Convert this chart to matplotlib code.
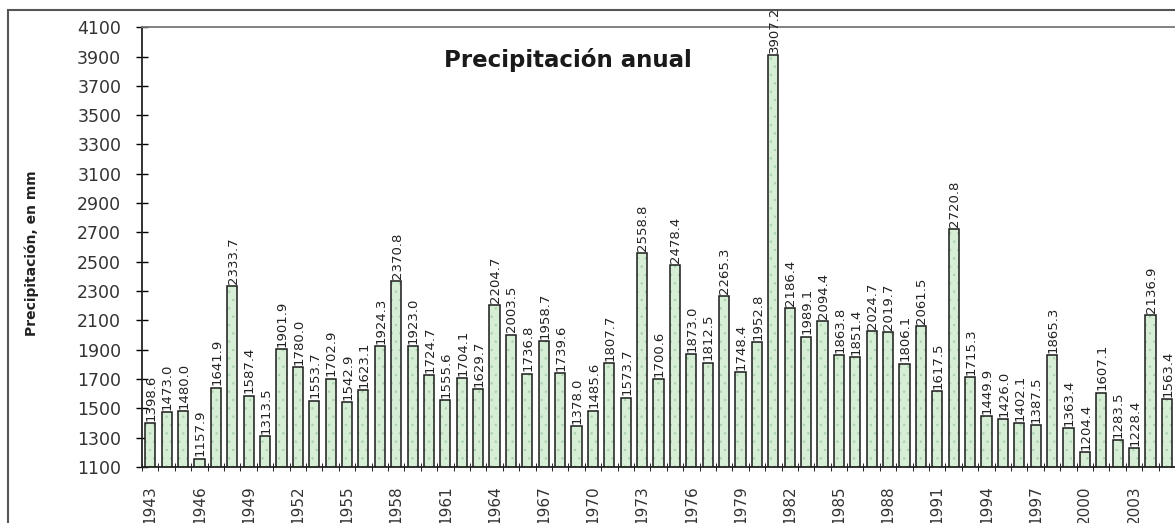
import numpy as np
import matplotlib
matplotlib.use('Agg')
import matplotlib.pyplot as plt
from matplotlib.patches import Rectangle

## Annual precipitation (mm)
years = np.arange(1943, 2007)
precip = [1398.6, 1473.0, 1480.0, 1157.9, 1641.9, 2333.7, 1587.4, 1313.5,
          1901.9, 1780.0, 1553.7, 1702.9, 1542.9, 1623.1, 1924.3, 2370.8,
          1923.0, 1724.7, 1555.6, 1704.1, 1629.7, 2204.7, 2003.5, 1736.8,
          1958.7, 1739.6, 1378.0, 1485.6, 1807.7, 1573.7, 2558.8, 1700.6,
          2478.4, 1873.0, 1812.5, 2265.3, 1748.4, 1952.8, 3907.2, 2186.4,
          1989.1, 2094.4, 1863.8, 1851.4, 2024.7, 2019.7, 1806.1, 2061.5,
          1617.5, 2720.8, 1715.3, 1449.9, 1426.0, 1402.1, 1387.5, 1865.3,
          1363.4, 1204.4, 1607.1, 1283.5, 1228.4, 2136.9, 1563.4, 1779.8]
year_labels = years[::3]
yticks = np.arange(1100, 4101, 200)

plt.rcParams['font.family'] = ['DejaVu Sans']
plt.rcParams['hatch.linewidth'] = 0.5

fig = plt.figure(figsize=(11.75, 5.23), dpi=100)

## outer frame
fig.patches.append(Rectangle((0.007, -0.05), 1.2, 1.031, transform=fig.transFigure,
                             fill=False, edgecolor='#555555', lw=1.5))

ax = fig.add_axes([0.1209, 0.107, 0.914, 0.841])
# fill with faint dotted pattern, then dark outline on top
ax.bar(years, precip, width=0.62, bottom=0, color='#d6edd6', edgecolor='#a9d3a9',
       linewidth=0, hatch='..', zorder=2)
ax.bar(years, precip, width=0.62, bottom=0, fill=False, edgecolor='#1a1a1a',
       linewidth=1.1, zorder=3)

for yr, v in zip(years, precip):
    ax.text(yr + 0.05, v + 15, '%.1f' % v, rotation=90, ha='center', va='bottom',
            fontsize=9.5, color='#222222', clip_on=False)

ax.set_ylim(1100, 4100)
ax.set_xlim(1942.62, 2008)
ax.set_yticks(yticks)
ax.set_yticklabels([str(t) for t in yticks], fontsize=12.5, color='#333333')
ax.set_xticks(year_labels)
ax.set_xticklabels([str(y) for y in year_labels], rotation=90, fontsize=11, color='#333333')
ax.tick_params(axis='x', length=0, pad=13)
ax.set_xticks(np.arange(1942.5, 2008, 1), minor=True)
ax.tick_params(axis='x', which='minor', length=6, direction='inout')
ax.tick_params(axis='y', length=8, direction='inout', width=1, pad=11)
for s in ['left', 'bottom', 'top']:
    ax.spines[s].set_linewidth(1.3)
    ax.spines[s].set_color('#222222')
ax.spines['top'].set_color('#777777')
ax.spines['right'].set_visible(False)

fig.text(0.027, 0.515, 'Precipitación, en mm', rotation=90, ha='center', va='center',
         fontsize=10, fontweight='bold', color='#222222')
fig.text(0.483, 0.885, 'Precipitación anual', ha='center', va='center',
         fontsize=16.5, fontweight='bold', color='#1a1a1a')

fig.savefig('out.png', dpi=100)
